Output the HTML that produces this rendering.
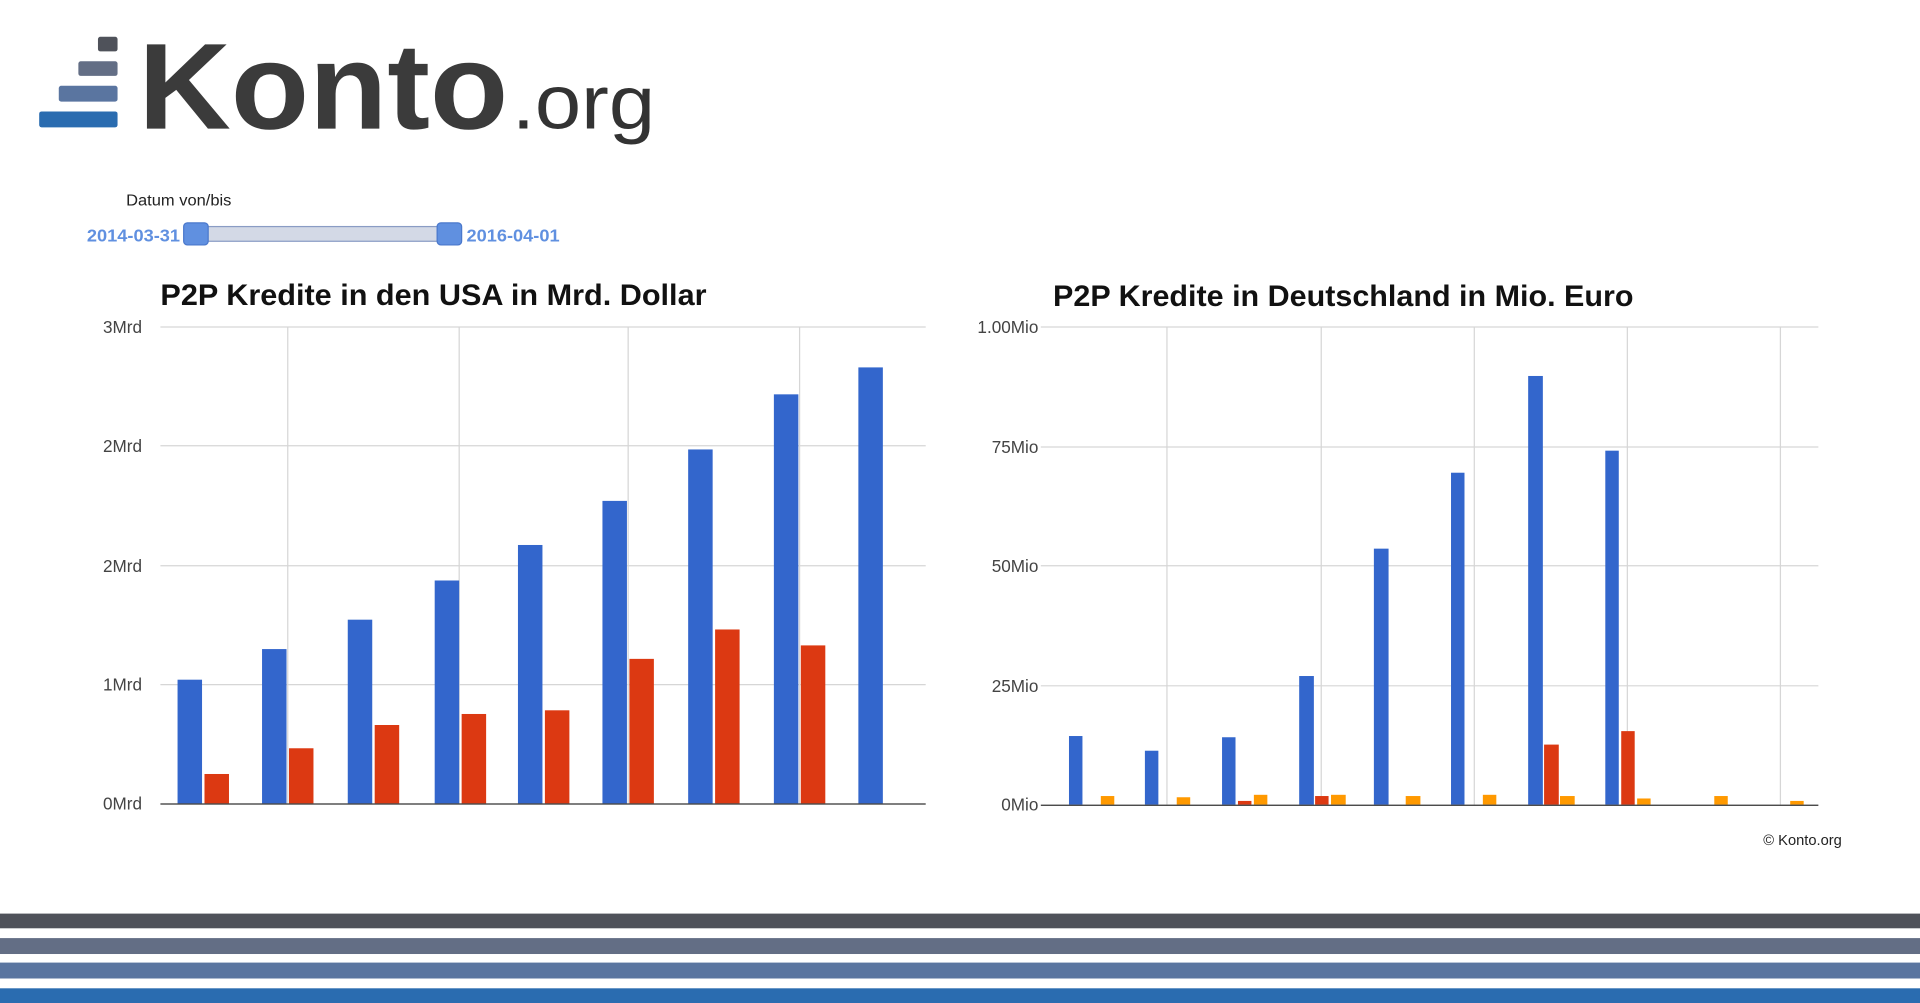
<!DOCTYPE html>
<html><head><meta charset="utf-8"><style>
html,body{margin:0;padding:0;background:#fff;width:1920px;height:1003px;overflow:hidden}
svg{display:block}
text{font-family:"Liberation Sans",Arial,sans-serif}
</style></head><body>
<svg width="1920" height="1003" viewBox="0 0 1568 819" preserveAspectRatio="none" xmlns="http://www.w3.org/2000/svg">
<!-- logo -->
<rect x="80" y="30" width="16" height="12" rx="2" fill="#4f525a"/>
<rect x="64" y="50" width="32" height="12" rx="2" fill="#636e85"/>
<rect x="48" y="70" width="48" height="13" rx="2" fill="#5a75a0"/>
<rect x="32" y="91" width="64" height="13" rx="2" fill="#2a6cb0"/>
<text x="113" y="105" font-size="100" font-weight="bold" fill="#3b3b3b" textLength="302" lengthAdjust="spacingAndGlyphs">Konto</text>
<text x="418" y="105" font-size="62" fill="#333" textLength="117" lengthAdjust="spacingAndGlyphs">.org</text>
<!-- slider -->
<text x="103" y="168" font-size="13" fill="#222" textLength="86" lengthAdjust="spacingAndGlyphs">Datum von/bis</text>
<text x="71" y="197" font-size="14" font-weight="bold" fill="#6090e0" textLength="76" lengthAdjust="spacingAndGlyphs">2014-03-31</text>
<rect x="160" y="185" width="207" height="12" fill="#d3d9e6" stroke="#8a9cc4" stroke-width="1"/>
<rect x="150" y="182" width="20" height="18" rx="3" fill="#6090e0" stroke="#4a78cc"/>
<rect x="357" y="182" width="20" height="18" rx="3" fill="#6090e0" stroke="#4a78cc"/>
<text x="381" y="197" font-size="14" font-weight="bold" fill="#6090e0" textLength="76" lengthAdjust="spacingAndGlyphs">2016-04-01</text>
<!-- left chart -->
<text x="131" y="249" font-size="24" font-weight="bold" fill="#111" textLength="446" lengthAdjust="spacingAndGlyphs">P2P Kredite in den USA in Mrd. Dollar</text>
<g stroke="#d6d6d6" stroke-width="1">
<line x1="131" y1="267" x2="756" y2="267"/><line x1="131" y1="364" x2="756" y2="364"/>
<line x1="131" y1="462" x2="756" y2="462"/><line x1="131" y1="559" x2="756" y2="559"/>
<line x1="235" y1="267" x2="235" y2="656"/><line x1="375" y1="267" x2="375" y2="656"/>
<line x1="513" y1="267" x2="513" y2="656"/><line x1="653" y1="267" x2="653" y2="656"/>
</g>
<g font-size="14" fill="#444" text-anchor="end">
<text x="116" y="272">3Mrd</text><text x="116" y="369">2Mrd</text><text x="116" y="467">2Mrd</text><text x="116" y="564">1Mrd</text><text x="116" y="661">0Mrd</text>
</g>
<g fill="#3366cc">
<rect x="145" y="555" width="20" height="101"/><rect x="214" y="530" width="20" height="126"/>
<rect x="284" y="506" width="20" height="150"/><rect x="355" y="474" width="20" height="182"/>
<rect x="423" y="445" width="20" height="211"/><rect x="492" y="409" width="20" height="247"/>
<rect x="562" y="367" width="20" height="289"/><rect x="632" y="322" width="20" height="334"/>
<rect x="701" y="300" width="20" height="356"/>
</g>
<g fill="#dc3912">
<rect x="167" y="632" width="20" height="24"/><rect x="236" y="611" width="20" height="45"/>
<rect x="306" y="592" width="20" height="64"/><rect x="377" y="583" width="20" height="73"/>
<rect x="445" y="580" width="20" height="76"/><rect x="514" y="538" width="20" height="118"/>
<rect x="584" y="514" width="20" height="142"/><rect x="654" y="527" width="20" height="129"/>
</g>
<line x1="131" y1="656.5" x2="756" y2="656.5" stroke="#333" stroke-width="1"/>
<!-- right chart -->
<text x="860" y="250" font-size="24" font-weight="bold" fill="#111" textLength="474" lengthAdjust="spacingAndGlyphs">P2P Kredite in Deutschland in Mio. Euro</text>
<g stroke="#d6d6d6" stroke-width="1">
<line x1="850" y1="267" x2="1485" y2="267"/><line x1="850" y1="365" x2="1485" y2="365"/>
<line x1="850" y1="462" x2="1485" y2="462"/><line x1="850" y1="560" x2="1485" y2="560"/>
<line x1="953" y1="267" x2="953" y2="657"/><line x1="1079" y1="267" x2="1079" y2="657"/>
<line x1="1204" y1="267" x2="1204" y2="657"/><line x1="1329" y1="267" x2="1329" y2="657"/>
<line x1="1454" y1="267" x2="1454" y2="657"/>
</g>
<g font-size="14" fill="#444" text-anchor="end">
<text x="848" y="272">1.00Mio</text><text x="848" y="370">75Mio</text><text x="848" y="467">50Mio</text><text x="848" y="565">25Mio</text><text x="848" y="662">0Mio</text>
</g>
<g fill="#3366cc">
<rect x="873" y="601" width="11" height="56"/><rect x="935" y="613" width="11" height="44"/>
<rect x="998" y="602" width="11" height="55"/><rect x="1061" y="552" width="12" height="105"/>
<rect x="1122" y="448" width="12" height="209"/><rect x="1185" y="386" width="11" height="271"/>
<rect x="1248" y="307" width="12" height="350"/><rect x="1311" y="368" width="11" height="289"/>
</g>
<g fill="#dc3912">
<rect x="1011" y="654" width="11" height="3"/><rect x="1074" y="650" width="11" height="7"/>
<rect x="1261" y="608" width="12" height="49"/><rect x="1324" y="597" width="11" height="60"/>
</g>
<g fill="#ff9900">
<rect x="899" y="650" width="11" height="7"/><rect x="961" y="651" width="11" height="6"/>
<rect x="1024" y="649" width="11" height="8"/><rect x="1087" y="649" width="12" height="8"/>
<rect x="1148" y="650" width="12" height="7"/><rect x="1211" y="649" width="11" height="8"/>
<rect x="1274" y="650" width="12" height="7"/><rect x="1337" y="652" width="11" height="5"/>
<rect x="1400" y="650" width="11" height="7"/><rect x="1462" y="654" width="11" height="3"/>
</g>
<line x1="850" y1="657.5" x2="1485" y2="657.5" stroke="#333" stroke-width="1"/>
<text x="1440" y="690" font-size="12" fill="#222">© Konto.org</text>
<!-- bottom stripes -->
<rect x="0" y="746" width="1568" height="12" fill="#4f525a"/>
<rect x="0" y="766" width="1568" height="13" fill="#636e85"/>
<rect x="0" y="786" width="1568" height="13" fill="#5a75a0"/>
<rect x="0" y="807" width="1568" height="12" fill="#2a6cb0"/>
</svg>
</body></html>
